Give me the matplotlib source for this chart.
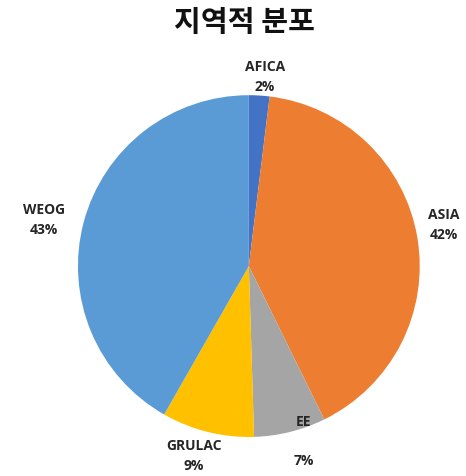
import matplotlib.pyplot as plt

regions = ["AFICA", "ASIA", "EE", "GRULAC", "WEOG"]
shares = [2, 42, 7, 9, 43]
colors = ["#4472C4", "#ED7D31", "#A5A5A5", "#FFC000", "#5B9BD5"]

# label anchor points in pie units (radius = 1)
label_pos = {
    "AFICA": (0.094, 1.105),
    "ASIA": (1.14, 0.240),
    "WEOG": (-1.20, 0.270),
    "GRULAC": (-0.32, -1.11),
}

plt.rcParams['font.family'] = ['Noto Sans CJK KR', 'DejaVu Sans']

fig = plt.figure(figsize=(4.66, 4.76), dpi=100)
ax = fig.add_axes([0.167, 0.082, 0.734, 0.718])

ax.pie(shares, colors=colors, startangle=90, counterclock=False,
       radius=1.0, wedgeprops=dict(linewidth=0))
ax.set_xlim(-1, 1)
ax.set_ylim(-1, 1)
ax.set_aspect('equal')
ax.axis('off')

txt_kw = dict(ha='center', va='center', fontsize=10, fontweight='bold',
              color='#262626', family=['Open Sans', 'DejaVu Sans'],
              linespacing=1.55, clip_on=False)
for name, val in zip(regions, shares):
    if name in label_pos:
        x, y = label_pos[name]
        ax.text(x, y, f"{name}\n{val}%", **txt_kw)

# EE label is split: name near the rim, percentage below the pie
ee_val = shares[regions.index("EE")]
ax.text(0.32, -0.91, "EE", **txt_kw)
ax.text(0.32, -1.14, f"{ee_val}%", **txt_kw)

fig.text(0.525, 0.953, "지역적 분포", ha='center', va='center',
         fontsize=21, fontweight='bold', color='#111111')

fig.savefig("out.png", dpi=100)
